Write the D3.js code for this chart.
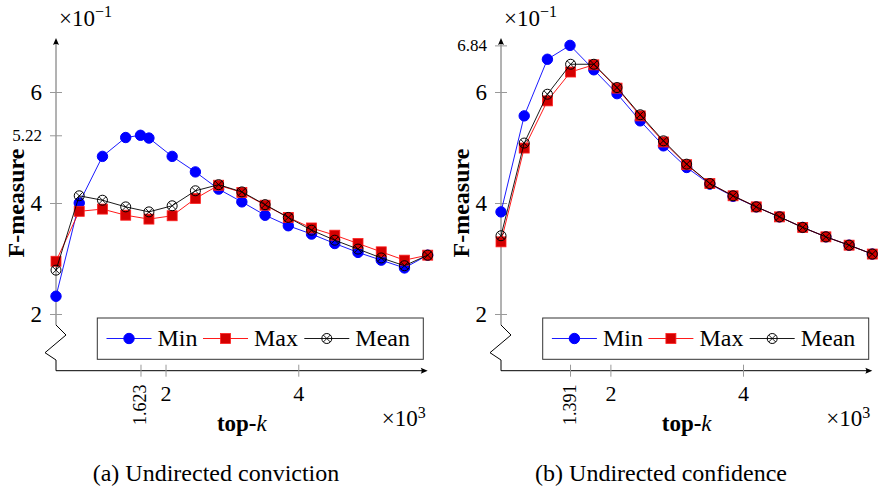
<!DOCTYPE html>
<html>
<head>
    <meta charset="UTF-8">
    <script src="https://d3js.org/d3.v7.min.js"></script>
</head>
<body style="margin:0">
<div id="output"></div>

<script>

// top-k in thousands, F-measure in units of 10^-1
var kValues = [0.35, 0.70, 1.05, 1.40, 1.75, 2.10, 2.45, 2.80, 3.15, 3.50, 3.85, 4.20, 4.55, 4.90, 5.25, 5.60, 5.95];
var yTicks = [2, 4, 6];
var xTicks = [2, 4];

// (a) undirected conviction
var convMinK = [0.35, 0.70, 1.05, 1.40, 1.623, 1.75, 2.10, 2.45, 2.80, 3.15, 3.50, 3.85, 4.20, 4.55, 4.90, 5.25, 5.60, 5.95];
var convMin  = [2.32, 4.00, 4.84, 5.18, 5.22, 5.17, 4.84, 4.56, 4.25, 4.02, 3.78, 3.59, 3.44, 3.27, 3.11, 2.97, 2.83, 3.06];
var convMax  = [2.95, 3.85, 3.89, 3.78, 3.71, 3.77, 4.08, 4.32, 4.19, 3.96, 3.74, 3.55, 3.42, 3.27, 3.12, 2.97, 3.06];
var convMean = [2.79, 4.13, 4.05, 3.93, 3.84, 3.95, 4.22, 4.33, 4.20, 3.97, 3.74, 3.51, 3.33, 3.17, 3.01, 2.87, 3.06];

// (b) undirected confidence
var confMinK = [0.35, 0.70, 1.05, 1.391, 1.75, 2.10, 2.45, 2.80, 3.15, 3.50, 3.85, 4.20, 4.55, 4.90, 5.25, 5.60, 5.95];
var confMin  = [3.84, 5.57, 6.59, 6.84, 6.40, 5.97, 5.48, 5.03, 4.64, 4.34, 4.12, 3.93, 3.75, 3.56, 3.39, 3.24, 3.08];
var confMax  = [3.30, 4.99, 5.84, 6.36, 6.49, 6.07, 5.57, 5.10, 4.69, 4.35, 4.13, 3.93, 3.75, 3.56, 3.39, 3.24, 3.08];
var confMean = [3.41, 5.08, 5.96, 6.50, 6.50, 6.08, 5.59, 5.12, 4.70, 4.35, 4.13, 3.93, 3.75, 3.56, 3.39, 3.24, 3.08];

var seriesNames = ["Min", "Max", "Mean"];
var seriesColors = ["#0000ff", "#ff0000", "#000000"];

var serif = "Liberation Serif";

var w = 882;
var h = 490;
var svg = d3.select("#output")
    .append("svg")
    .attr("width", w)
    .attr("height", h);

var y = d3.scaleLinear().domain([2, 6]).range([314, 92]);
var axisY = 370.7;

function marker(sel, i) {
    if (i === 0) {
        sel.append("circle").attr("r", 5.2)
            .attr("fill", "#0000ff").attr("stroke", "#0000ff");
    } else if (i === 1) {
        sel.append("rect").attr("x", -5).attr("y", -5)
            .attr("width", 10).attr("height", 10)
            .attr("fill", "#d40000").attr("stroke", "#ff2020").attr("stroke-width", 0.8);
    } else {
        sel.append("circle").attr("r", 5)
            .attr("fill", "none").attr("stroke", "#000").attr("stroke-width", 1);
        sel.append("path").attr("d", "M-3.5,-3.5L3.5,3.5M-3.5,3.5L3.5,-3.5")
            .attr("stroke", "#000").attr("stroke-width", 0.9);
    }
}

function label(sel) {
    return sel.append("text")
        .attr("font-family", serif)
        .style("font-family", "'Liberation Serif'");
}

function drawPanel(p) {
    var g = svg.append("g");
    var x = d3.scaleLinear().domain([kValues[0], kValues[kValues.length - 1]]).range([p.x0, p.x1]);
    var ax = p.x0;

    // y axis (grey) with break
    g.append("path")
        .attr("d", "M" + ax + ",43V325")
        .attr("stroke", "#666").attr("fill", "none");
    g.append("path")
        .attr("d", "M" + ax + ",325L" + (ax + 10) + ",335L" + (ax - 11) + ",352.7L" + ax + ",360V" + axisY)
        .attr("stroke", "#000").attr("fill", "none");
    g.append("path")
        .attr("d", "M" + ax + ",38L" + (ax - 3) + ",45Q" + ax + ",43 " + (ax + 3) + ",45Z")
        .attr("fill", "#000");

    // x axis (black)
    g.append("path")
        .attr("d", "M" + ax + "," + axisY + "H" + (p.x1 - 4))
        .attr("stroke", "#000").attr("fill", "none");
    g.append("path")
        .attr("d", "M" + p.x1 + "," + axisY + "L" + (p.x1 - 7) + "," + (axisY - 3) +
              "Q" + (p.x1 - 5) + "," + axisY + " " + (p.x1 - 7) + "," + (axisY + 3) + "Z")
        .attr("fill", "#000");

    // y ticks
    var yAxis = d3.axisLeft(y)
        .tickValues(yTicks.concat([p.yExtra]))
        .tickSize(6).tickPadding(8)
        .tickFormat(function (d) { return String(d); });
    var gy = g.append("g").attr("transform", "translate(" + ax + ",0)").call(yAxis);
    gy.attr("font-family", serif);
    gy.select(".domain").remove();
    gy.selectAll("line").attr("x1", 6).attr("x2", -6).attr("stroke", "#999");
    gy.selectAll("text")
        .attr("font-family", serif)
        .style("font-family", "'Liberation Serif'")
        .attr("font-size", function (d) { return d === p.yExtra ? 17 : 23; })
        .attr("fill", "#000");

    // x ticks
    var xAxis = d3.axisBottom(x)
        .tickValues([p.xExtra].concat(xTicks))
        .tickSize(6).tickPadding(9)
        .tickFormat(function (d) { return d === p.xExtra ? "" : String(d); });
    var gx = g.append("g").attr("transform", "translate(0," + axisY + ")").call(xAxis);
    gx.attr("font-family", serif);
    gx.select(".domain").remove();
    gx.selectAll("line").attr("y1", 6).attr("y2", -6).attr("stroke", "#999");
    gx.selectAll("text")
        .attr("font-family", serif)
        .style("font-family", "'Liberation Serif'")
        .attr("font-size", 22).attr("fill", "#000");

    label(g)
        .attr("transform", "translate(" + (x(p.xExtra) + 5.5) + ",425) rotate(-90)")
        .attr("font-size", 18)
        .text(String(p.xExtra));

    // multipliers
    var my = label(g).attr("x", ax + 3).attr("y", 26).attr("font-size", 23);
    my.append("tspan").text("\u00d710");
    my.append("tspan").attr("dy", -9).attr("font-size", 16).text("\u22121");

    var mx = label(g).attr("x", p.x1 - 2).attr("y", 426)
        .attr("font-size", 23).attr("text-anchor", "end");
    mx.append("tspan").text("\u00d710");
    mx.append("tspan").attr("dy", -8).attr("font-size", 16).text("3");

    // axis labels
    var xl = label(g)
        .attr("x", (p.x0 + p.x1) / 2).attr("y", 431)
        .attr("text-anchor", "middle").attr("font-size", 23);
    xl.append("tspan").attr("font-weight", "bold").text("top-");
    xl.append("tspan").attr("font-style", "italic").text("k");

    label(g)
        .attr("transform", "translate(" + (ax - 32) + ",203) rotate(-90)")
        .attr("text-anchor", "middle")
        .attr("font-size", 24).attr("font-weight", "bold")
        .text("F-measure");

    // series
    var series = [
        { k: p.minK, v: p.min },
        { k: kValues, v: p.max },
        { k: kValues, v: p.mean }
    ];
    var line = d3.line()
        .x(function (d) { return x(d[0]); })
        .y(function (d) { return y(d[1]); });

    series.forEach(function (s, i) {
        var pts = d3.zip(s.k, s.v);
        g.append("path")
            .datum(pts)
            .attr("d", line)
            .attr("fill", "none")
            .attr("stroke", seriesColors[i])
            .attr("stroke-width", 0.9);
        g.selectAll(".m" + i)
            .data(pts)
            .enter()
            .append("g")
            .attr("class", "m" + i)
            .attr("transform", function (d) { return "translate(" + x(d[0]) + "," + y(d[1]) + ")"; })
            .each(function () { marker(d3.select(this), i); });
    });

    // legend
    var lg = g.append("g").attr("transform", "translate(" + p.legendX + ",318)");
    lg.append("rect")
        .attr("width", 326).attr("height", 41.3)
        .attr("fill", "#fff").attr("stroke", "#333").attr("stroke-width", 1);
    var offs = [9.2, 105.7, 207];
    seriesNames.forEach(function (name, i) {
        var e = lg.append("g").attr("transform", "translate(" + offs[i] + ",20.5)");
        e.append("line").attr("x1", 0).attr("x2", 45)
            .attr("stroke", seriesColors[i]).attr("stroke-width", 0.9);
        marker(e.append("g").attr("transform", "translate(22.5,0)"), i);
        label(e).attr("x", 51).attr("y", 7.5).attr("font-size", 24).text(name);
    });

    label(svg)
        .attr("x", p.captionX).attr("y", 481)
        .attr("text-anchor", "middle").attr("font-size", 24)
        .text(p.caption);
}

drawPanel({
    x0: 56, x1: 427.7, legendX: 97.3, captionX: 216,
    minK: convMinK, min: convMin, max: convMax, mean: convMean,
    yExtra: 5.22, xExtra: 1.623,
    caption: "(a) Undirected conviction"
});

drawPanel({
    x0: 501, x1: 872.3, legendX: 542.7, captionX: 661,
    minK: confMinK, min: confMin, max: confMax, mean: confMean,
    yExtra: 6.84, xExtra: 1.391,
    caption: "(b) Undirected confidence"
});

</script>
</body>
</html>
